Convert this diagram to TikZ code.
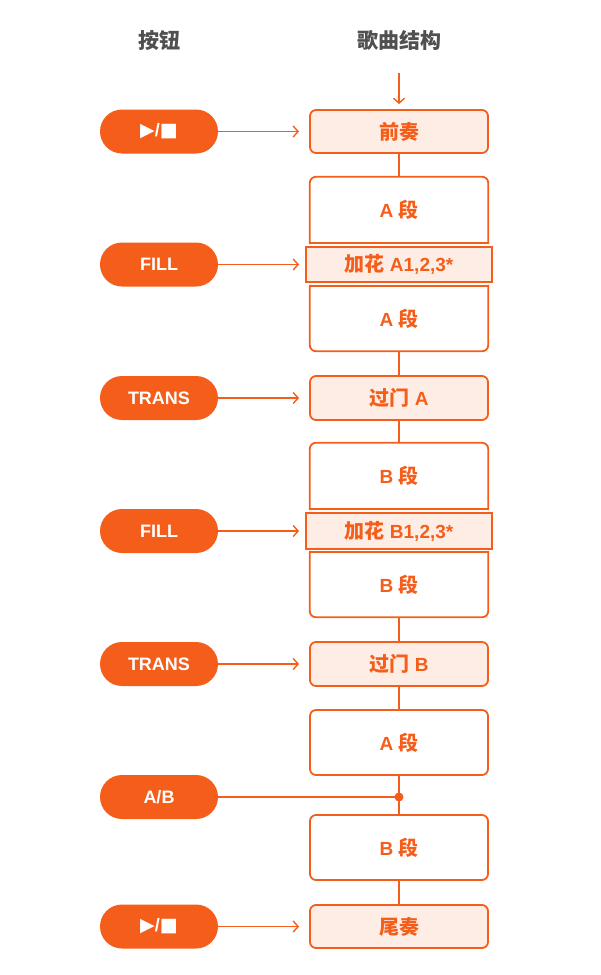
\documentclass[tikz,border=0pt]{standalone}
\usepackage{fontspec}
\setmainfont{Liberation Sans}
\newfontfamily\cjk{Noto Sans CJK SC}
\newfontfamily\sym{DejaVu Sans}
\usetikzlibrary{arrows.meta,calc}
\definecolor{org}{HTML}{F55E1A}
\definecolor{lightorg}{HTML}{FEEDE5}
\definecolor{hdr}{HTML}{505050}
\tikzset{
  line/.style={draw=org, line width=1.8pt},
  conn/.style={draw=org, line width=1.4pt},
  pill/.style={fill=org, rounded corners=22pt, minimum width=118pt, minimum height=44pt, inner sep=0pt, text=white, font=\fontsize{18}{20}\selectfont\bfseries},
  boxtxt/.style={minimum width=178pt, inner sep=0pt, text=org, font=\fontsize{19}{21}\selectfont\bfseries},
  fullbox/.style={boxtxt, line, fill=lightorg, rounded corners=6pt},
  whitebox/.style={boxtxt, line, rounded corners=6pt},
  fillbox/.style={boxtxt, line, fill=lightorg, minimum width=186pt},
  plainbox/.style={boxtxt},
  hdrtxt/.style={text=hdr, font=\fontsize{21}{23}\selectfont\bfseries\cjk},
  arr/.style={conn, -{Straight Barb[length=5pt, width=11pt, line width=1.4pt]}},
}
\newcommand\zh[1]{{\cjk\fontsize{20}{22}\selectfont #1}}
\newcommand\playstop{{\sym\fontsize{19}{21}\selectfont ▶}/{\sym\fontsize{19}{21}\selectfont ■}}
\begin{document}
\begin{tikzpicture}[x=1pt,y=-1pt]
\useasboundingbox (0,0) rectangle (600,975);
% headers
\node[hdrtxt] (h1) at (159,40) {按钮};
\node[hdrtxt] (h2) at (399,40) {歌曲结构};
% song structure
\node[fullbox, minimum height=43pt] (intro) at (399,131.5) {\zh{前奏}};
\node[plainbox, minimum height=66pt] (a1) at (399,210) {A \zh{段}};
\node[fillbox, minimum height=35pt] (fa) at (399,264.5) {\zh{加花} A1,2,3*};
\node[plainbox, minimum height=65pt] (a2) at (399,318.5) {A \zh{段}};
\node[fullbox, minimum height=44pt] (ta) at (399,398) {\zh{过门} A};
\node[plainbox, minimum height=66pt] (b1) at (399,476) {B \zh{段}};
\node[fillbox, minimum height=36pt] (fb) at (399,531) {\zh{加花} B1,2,3*};
\node[plainbox, minimum height=65pt] (b2) at (399,584.5) {B \zh{段}};
\node[fullbox, minimum height=44pt] (tb) at (399,664) {\zh{过门} B};
\node[whitebox, minimum height=65pt] (a3) at (399,742.5) {A \zh{段}};
\node[whitebox, minimum height=65pt] (b3) at (399,847.5) {B \zh{段}};
\node[fullbox, minimum height=43pt] (outro) at (399,926.5) {\zh{尾奏}};
% partial rounded borders
\draw[line, rounded corners=6pt, line cap=rect] (a1.south west) -- (a1.north west) -- (a1.north east) -- (a1.south east);
\draw[line, line cap=rect] (a1.south west) -- (a1.south east);
\draw[line, rounded corners=6pt, line cap=rect] (a2.north west) -- (a2.south west) -- (a2.south east) -- (a2.north east);
\draw[line, line cap=rect] (a2.north west) -- (a2.north east);
\draw[line, rounded corners=6pt, line cap=rect] (b1.south west) -- (b1.north west) -- (b1.north east) -- (b1.south east);
\draw[line, line cap=rect] (b1.south west) -- (b1.south east);
\draw[line, rounded corners=6pt, line cap=rect] (b2.north west) -- (b2.south west) -- (b2.south east) -- (b2.north east);
\draw[line, line cap=rect] (b2.north west) -- (b2.north east);
% vertical connectors
\coordinate (top) at (399,73);
\draw[arr] (top) -- ($(intro.north)+(0,-5)$);
\draw[conn] (intro.south) -- (a1.north);
\draw[conn] (a2.south) -- (ta.north);
\draw[conn] (ta.south) -- (b1.north);
\draw[conn] (b2.south) -- (tb.north);
\draw[conn] (tb.south) -- (a3.north);
\draw[conn] (a3.south) -- (b3.north);
\draw[conn] (b3.south) -- (outro.north);
% buttons
\node[pill] (p1) at (159,131.5) {\playstop};
\node[pill] (p2) at (159,264.5) {FILL};
\node[pill] (p3) at (159,398) {TRANS};
\node[pill] (p4) at (159,531) {FILL};
\node[pill] (p5) at (159,664) {TRANS};
\node[pill] (p6) at (159,797) {A/B};
\node[pill] (p7) at (159,926.5) {\playstop};
% arrows
\draw[arr] (p1.east) -- ($(intro.west)+(-10,0)$);
\draw[arr] (p2.east) -- ($(fa.west)+(-6,0)$);
\draw[arr] (p3.east) -- ($(ta.west)+(-10,0)$);
\draw[arr] (p4.east) -- ($(fb.west)+(-6,0)$);
\draw[arr] (p5.east) -- ($(tb.west)+(-10,0)$);
\coordinate (dot) at (399,797);
\draw[conn] (p6.east) -- (dot);
\fill[org] (dot) circle (4.5pt);
\draw[arr] (p7.east) -- ($(outro.west)+(-10,0)$);
\end{tikzpicture}
\end{document}
